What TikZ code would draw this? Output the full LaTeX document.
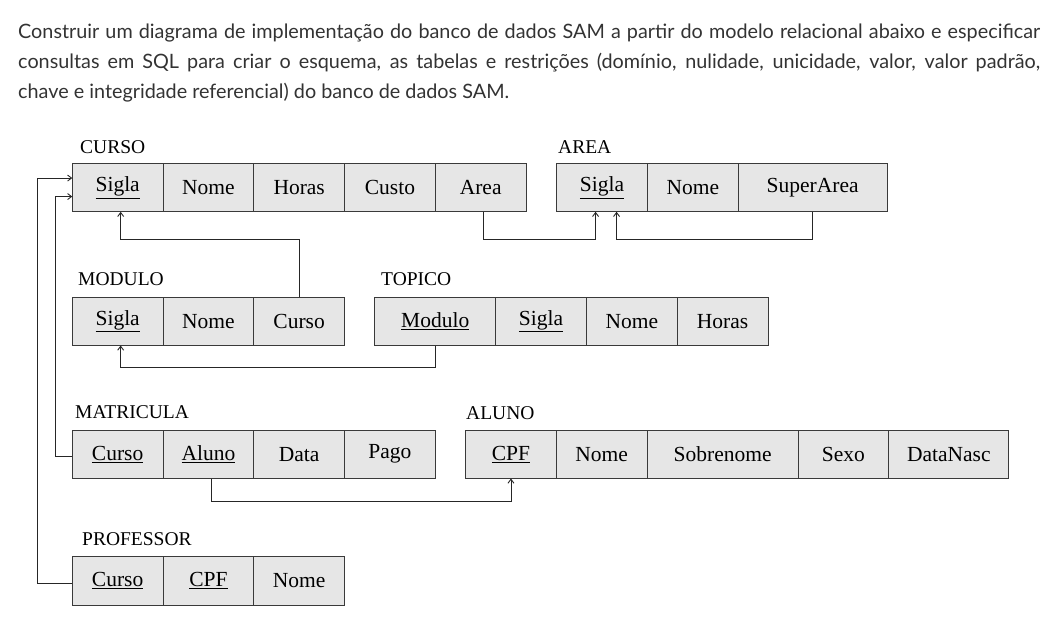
\documentclass[tikz,border=0pt]{standalone}
\usepackage{fontspec}
\newfontfamily\latofont{Lato}
\newfontfamily\tabfont{Liberation Serif}
\usetikzlibrary{positioning, arrows.meta}
\definecolor{celula}{HTML}{E6E6E6}
\definecolor{borda}{HTML}{3A3A3A}
\definecolor{texto}{HTML}{333333}

\tikzset{
  campo/.style={draw=borda, fill=celula, line width=0.9pt, minimum width=90.75pt,
    minimum height=48.5pt, inner sep=0pt, outer sep=0pt,
    font=\tabfont\fontsize{21.5}{25}\selectfont},
  titulo/.style={anchor=base west, inner sep=0pt, font=\tabfont\fontsize{19.5}{23}\selectfont},
  liga/.style={draw=black!85, line width=0.9pt},
  seta/.style={liga, -{Straight Barb[length=4pt,width=6pt]}},
}

\begin{document}
\begin{tikzpicture}[x=1pt, y=-1pt]
	\useasboundingbox (0,0) rectangle (1057,640);

	%enunciado
	\node[anchor=north west, inner sep=0pt, text width=1022pt, align=justify, text=texto,
	  font=\latofont\fontsize{19.8}{30}\selectfont] (enunciado) at (18,24)
	  {Construir um diagrama de implementação do banco de dados SAM a partir do modelo relacional abaixo e especificar\linebreak
	  consultas em SQL para criar o esquema, as tabelas e restrições (domínio, nulidade, unicidade, valor, valor padrão,\linebreak
	  chave e integridade referencial) do banco de dados SAM.};

	%CURSO
	\node[titulo] (tcurso) at (80,153) {CURSO};
	\node[campo, anchor=north west] (cursosigla) at (72.3,163.3) {\underline{Sigla}};
	\node[campo, right=0pt of cursosigla] (cursonome) {Nome};
	\node[campo, right=0pt of cursonome] (cursohoras) {Horas};
	\node[campo, right=0pt of cursohoras] (cursocusto) {Custo};
	\node[campo, right=0pt of cursocusto] (cursoarea) {Area};

	%AREA
	\node[titulo] (tarea) at (558,153) {AREA};
	\node[campo, anchor=north west] (areasigla) at (556.7,163.3) {\underline{Sigla}};
	\node[campo, right=0pt of areasigla] (areanome) {Nome};
	\node[campo, right=0pt of areanome, minimum width=149pt] (areasuper) {SuperArea};

	%MODULO
	\node[titulo] (tmodulo) at (78,285) {MODULO};
	\node[campo, anchor=north west] (modulosigla) at (72.3,297) {\underline{Sigla}};
	\node[campo, right=0pt of modulosigla] (modulonome) {Nome};
	\node[campo, right=0pt of modulonome] (modulocurso) {Curso};

	%TOPICO
	\node[titulo] (ttopico) at (381,285) {TOPICO};
	\node[campo, anchor=north west, minimum width=121pt] (topicomodulo) at (374.7,297) {\underline{Modulo}};
	\node[campo, right=0pt of topicomodulo] (topicosigla) {\underline{Sigla}};
	\node[campo, right=0pt of topicosigla] (topiconome) {Nome};
	\node[campo, right=0pt of topiconome] (topicohoras) {Horas};

	%MATRICULA
	\node[titulo] (tmatricula) at (75,418) {MATRICULA};
	\node[campo, anchor=north west] (matcurso) at (72.3,430) {\underline{Curso}};
	\node[campo, right=0pt of matcurso] (mataluno) {\underline{Aluno}};
	\node[campo, right=0pt of mataluno] (matdata) {Data};
	\node[campo, right=0pt of matdata] (matpago) {Pago};

	%ALUNO
	\node[titulo] (taluno) at (466,419) {ALUNO};
	\node[campo, anchor=north west] (alunocpf) at (465.6,430) {\underline{CPF}};
	\node[campo, right=0pt of alunocpf] (alunonome) {Nome};
	\node[campo, right=0pt of alunonome, minimum width=151pt] (alunosobrenome) {Sobrenome};
	\node[campo, right=0pt of alunosobrenome] (alunosexo) {Sexo};
	\node[campo, right=0pt of alunosexo, minimum width=120pt] (alunonasc) {DataNasc};

	%PROFESSOR
	\node[titulo] (tprofessor) at (82,545) {PROFESSOR};
	\node[campo, anchor=north west] (profcurso) at (72.3,556.7) {\underline{Curso}};
	\node[campo, right=0pt of profcurso] (profcpf) {\underline{CPF}};
	\node[campo, right=0pt of profcpf] (profnome) {Nome};

	%ligacoes
	\coordinate (nivela) at (0,239);
	\coordinate (nivelb) at (0,367.5);
	\coordinate (nivelc) at (0,501);
	\coordinate (trilhoa) at (37.3,0);
	\coordinate (trilhob) at (55,0);

	\draw[seta] (modulocurso.north) -- (modulocurso.north |- nivela)
	  -| ([xshift=3pt]cursosigla.south);
	\draw[seta] ([xshift=2.5pt]cursoarea.south) -- ([xshift=2.5pt]cursoarea.south |- nivela)
	  -| ([xshift=-6.5pt]areasigla.south);
	\draw[seta] (areasuper.south) -- (areasuper.south |- nivela)
	  -| ([xshift=14.5pt]areasigla.south);
	\draw[seta] (topicomodulo.south) -- (topicomodulo.south |- nivelb)
	  -| ([xshift=3pt]modulosigla.south);
	\draw[seta] ([xshift=3.5pt]mataluno.south) -- ([xshift=3.5pt]mataluno.south |- nivelc)
	  -| (alunocpf.south);
	\draw[seta] ([yshift=-2.5pt]matcurso.west) -- ([yshift=-2.5pt]matcurso.west -| trilhob)
	  |- ([yshift=-9pt]cursosigla.west);
	\draw[seta] ([yshift=-2pt]profcurso.west) -- ([yshift=-2pt]profcurso.west -| trilhoa)
	  |- ([yshift=9.5pt]cursosigla.west);

\end{tikzpicture}
\end{document}
